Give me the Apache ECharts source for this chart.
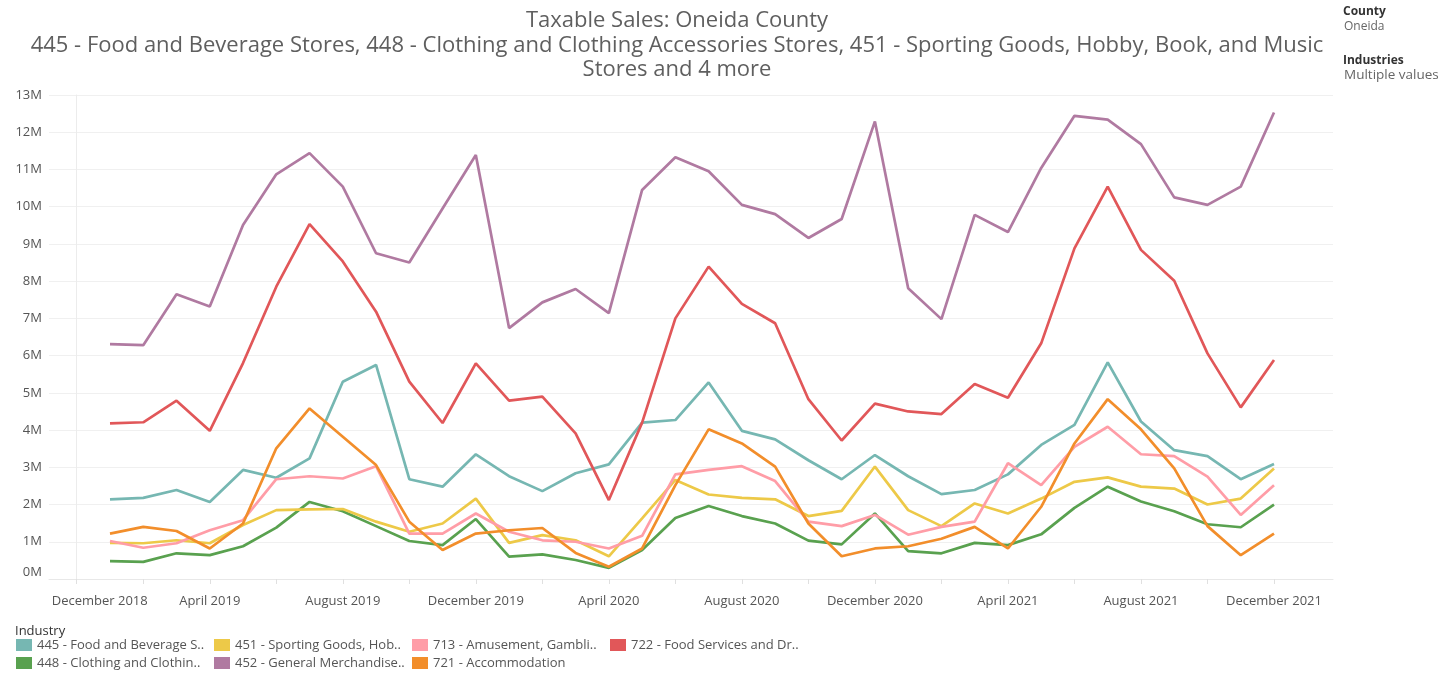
<!doctype html>
<html>
<head>
<meta charset="utf-8" />
<title>Taxable Sales: Oneida County</title>
<script src="https://cdn.jsdelivr.net/npm/echarts@6/dist/echarts.min.js"></script>
<style>
  html, body { margin: 0; padding: 0; background: #fff; }
  #main { width: 1444px; height: 673px; }
</style>
</head>
<body>
<div id="main"></div>
<script>
// months Jan 2019 .. Dec 2021, x value = months since December 2018
var months = [];
for (var y = 2019; y <= 2021; y++) {
  for (var m = 1; m <= 12; m++) months.push(y + '-' + (m < 10 ? '0' : '') + m);
}
var tickLabels = ['December 2018', 'April 2019', 'August 2019', 'December 2019', 'April 2020',
  'August 2020', 'December 2020', 'April 2021', 'August 2021', 'December 2021'];
var tickPos = [0, 4, 8, 12, 16, 20, 24, 28, 32, 36];
var minorTickPos = [0, 2, 4, 6, 8, 10, 12, 14, 16, 18, 20, 22, 24, 26, 28, 30, 32, 34, 36];

var seriesNames = [
  '445 - Food and Beverage Stores',
  '448 - Clothing and Clothing Accessories Stores',
  '451 - Sporting Goods, Hobby, Book, and Music Stores',
  '452 - General Merchandise Stores',
  '713 - Amusement, Gambling, and Recreation Industries',
  '721 - Accommodation',
  '722 - Food Services and Drinking Places'
];
var legendLabels = [
  '445 - Food and Beverage S..',
  '448 - Clothing and Clothin..',
  '451 - Sporting Goods, Hob..',
  '452 - General Merchandise..',
  '713 - Amusement, Gambli..',
  '721 - Accommodation',
  '722 - Food Services and Dr..'
];
var colors = ['#76B7B2', '#59A14F', '#EDC948', '#B07AA1', '#FF9DA7', '#F28E2B', '#E15759'];

// values in millions
var food = [2.14, 2.18, 2.39, 2.07, 2.93, 2.72, 3.24, 5.30, 5.75, 2.68, 2.48, 3.35,
            2.76, 2.36, 2.84, 3.08, 4.20, 4.27, 5.28, 3.98, 3.75, 3.19, 2.68, 3.33,
            2.76, 2.28, 2.39, 2.81, 3.60, 4.14, 5.82, 4.23, 3.46, 3.30, 2.68, 3.09];
var clothing = [0.48, 0.46, 0.69, 0.64, 0.88, 1.38, 2.07, 1.82, 1.42, 1.02, 0.91, 1.61,
                0.60, 0.66, 0.51, 0.30, 0.78, 1.64, 1.96, 1.69, 1.49, 1.03, 0.93, 1.76,
                0.75, 0.69, 0.97, 0.91, 1.20, 1.91, 2.48, 2.08, 1.82, 1.47, 1.39, 2.00];
var sporting = [0.97, 0.96, 1.04, 0.96, 1.45, 1.85, 1.87, 1.88, 1.54, 1.27, 1.49, 2.16,
                0.97, 1.18, 1.04, 0.61, 1.63, 2.66, 2.27, 2.18, 2.14, 1.69, 1.83, 3.02,
                1.85, 1.42, 2.03, 1.76, 2.16, 2.61, 2.73, 2.48, 2.43, 2.00, 2.16, 2.97];
var general = [6.31, 6.28, 7.65, 7.32, 9.51, 10.87, 11.44, 10.54, 8.75, 8.50, 9.95, 11.39,
               6.74, 7.43, 7.79, 7.14, 10.45, 11.33, 10.95, 10.05, 9.80, 9.16, 9.67, 12.29,
               7.81, 6.98, 9.78, 9.32, 11.04, 12.44, 12.34, 11.68, 10.25, 10.05, 10.54, 12.53];
var amusement = [1.02, 0.84, 0.96, 1.31, 1.58, 2.68, 2.76, 2.70, 3.03, 1.22, 1.22, 1.76,
                 1.27, 1.04, 1.00, 0.82, 1.16, 2.81, 2.93, 3.03, 2.63, 1.54, 1.42, 1.72,
                 1.19, 1.40, 1.54, 3.11, 2.52, 3.55, 4.09, 3.35, 3.30, 2.75, 1.72, 2.52];
var accommodation = [1.22, 1.40, 1.29, 0.82, 1.49, 3.51, 4.58, 3.82, 3.06, 1.54, 0.78, 1.22,
                     1.31, 1.37, 0.70, 0.33, 0.82, 2.52, 4.02, 3.64, 3.02, 1.49, 0.61, 0.82,
                     0.88, 1.08, 1.40, 0.82, 1.94, 3.64, 4.83, 4.02, 2.97, 1.42, 0.64, 1.22];
var foodServices = [4.18, 4.21, 4.79, 3.98, 5.80, 7.85, 9.53, 8.53, 7.18, 5.30, 4.19, 5.79,
                    4.79, 4.90, 3.91, 2.12, 4.20, 7.00, 8.39, 7.39, 6.87, 4.83, 3.72, 4.71,
                    4.50, 4.43, 5.24, 4.87, 6.33, 8.88, 10.54, 8.84, 8.01, 6.06, 4.61, 5.88];

var allValues = [food, clothing, sporting, general, amusement, accommodation, foodServices];

var FONT = '"Open Sans", "Noto Sans", sans-serif';

var series = [];
for (var i = 0; i < seriesNames.length; i++) {
  var d = [];
  for (var j = 0; j < months.length; j++) d.push([j + 1, allValues[i][j] * 1e6]);
  series.push({
    name: seriesNames[i],
    type: 'line',
    data: d,
    showSymbol: false,
    symbol: 'none',
    lineStyle: { width: 2.7, color: colors[i] },
    itemStyle: { color: colors[i] },
    emphasis: { disabled: true }
  });
}

// one legend per item: column (x) and row (y)
var legendX = [16, 16, 214, 214, 412, 412, 610];
var legendY = [637, 655, 637, 655, 637, 655, 637];
var legends = seriesNames.map(function (name, k) {
  return {
    left: legendX[k],
    top: legendY[k],
    padding: 0,
    itemWidth: 16,
    itemHeight: 12,
    itemGap: 0,
    icon: 'rect',
    data: [name],
    formatter: function () { return legendLabels[k]; },
    textStyle: { fontFamily: FONT, fontSize: 13, color: '#555', lineHeight: 16 },
    selectedMode: false
  };
});

function label(text, x, y, size, bold, color) {
  return {
    text: text,
    left: x,
    top: y,
    padding: 0,
    textStyle: { fontFamily: FONT, fontSize: size, fontWeight: bold ? 'bold' : 'normal', color: color, lineHeight: 14 }
  };
}

var chart = echarts.init(document.getElementById('main'));
chart.setOption({
  animation: false,
  color: colors,
  title: [{
    text: 'Taxable Sales: Oneida County',
    subtext: '445 - Food and Beverage Stores, 448 - Clothing and Clothing Accessories Stores, 451 - Sporting Goods, Hobby, Book, and Music\nStores and 4 more',
    left: 672,
    top: 4,
    textAlign: 'center',
    itemGap: 1,
    textStyle: { fontFamily: FONT, fontSize: 22, fontWeight: 'normal', color: '#5f5f5f', lineHeight: 24 },
    subtextStyle: { fontFamily: FONT, fontSize: 22, color: '#5f5f5f', lineHeight: 24, align: 'center' }
  },
    label('County', 1343, 5, 12, true, '#333'),
    label('Oneida', 1344, 20, 12, false, '#666'),
    label('Industries', 1343, 54, 12, true, '#333'),
    label('Multiple values', 1344, 68, 13.5, false, '#666'),
    label('Industry', 15, 624, 13, false, '#333')
  ],
  legend: legends,
  grid: { left: 49, right: 111, top: 95, bottom: 94, containLabel: false },
  xAxis: {
    type: 'value',
    min: -0.834,
    max: 37.774,
    axisLine: { show: true, onZero: false, lineStyle: { color: '#e8e8e8', width: 1 } },
    axisTick: { show: true, length: 5, customValues: minorTickPos, lineStyle: { color: '#e0e0e0' } },
    splitLine: { show: false },
    axisLabel: {
      customValues: tickPos,
      margin: 16,
      fontFamily: FONT,
      fontSize: 13,
      color: '#555',
      formatter: function (v) {
        var k = tickPos.indexOf(Math.round(v));
        if (k === 0) return '{first|' + tickLabels[k] + '}';
        return k >= 0 ? tickLabels[k] : '';
      },
      rich: { first: { fontFamily: FONT, fontSize: 13, color: '#555', padding: [0, 0, 0, 46] } }
    }
  },
  yAxis: {
    type: 'value',
    min: 0,
    max: 13e6,
    interval: 1e6,
    axisLine: { show: true, lineStyle: { color: '#ececec' } },
    axisTick: { show: false },
    splitLine: { lineStyle: { color: '#f0f0f0', width: 1 } },
    axisLabel: {
      margin: 7,
      fontFamily: FONT,
      fontSize: 13,
      color: '#555',
      formatter: function (v) { return Math.round(v / 1e6) + 'M'; },
      verticalAlignMinLabel: 'bottom'
    }
  },
  series: series
});
</script>
</body>
</html>
